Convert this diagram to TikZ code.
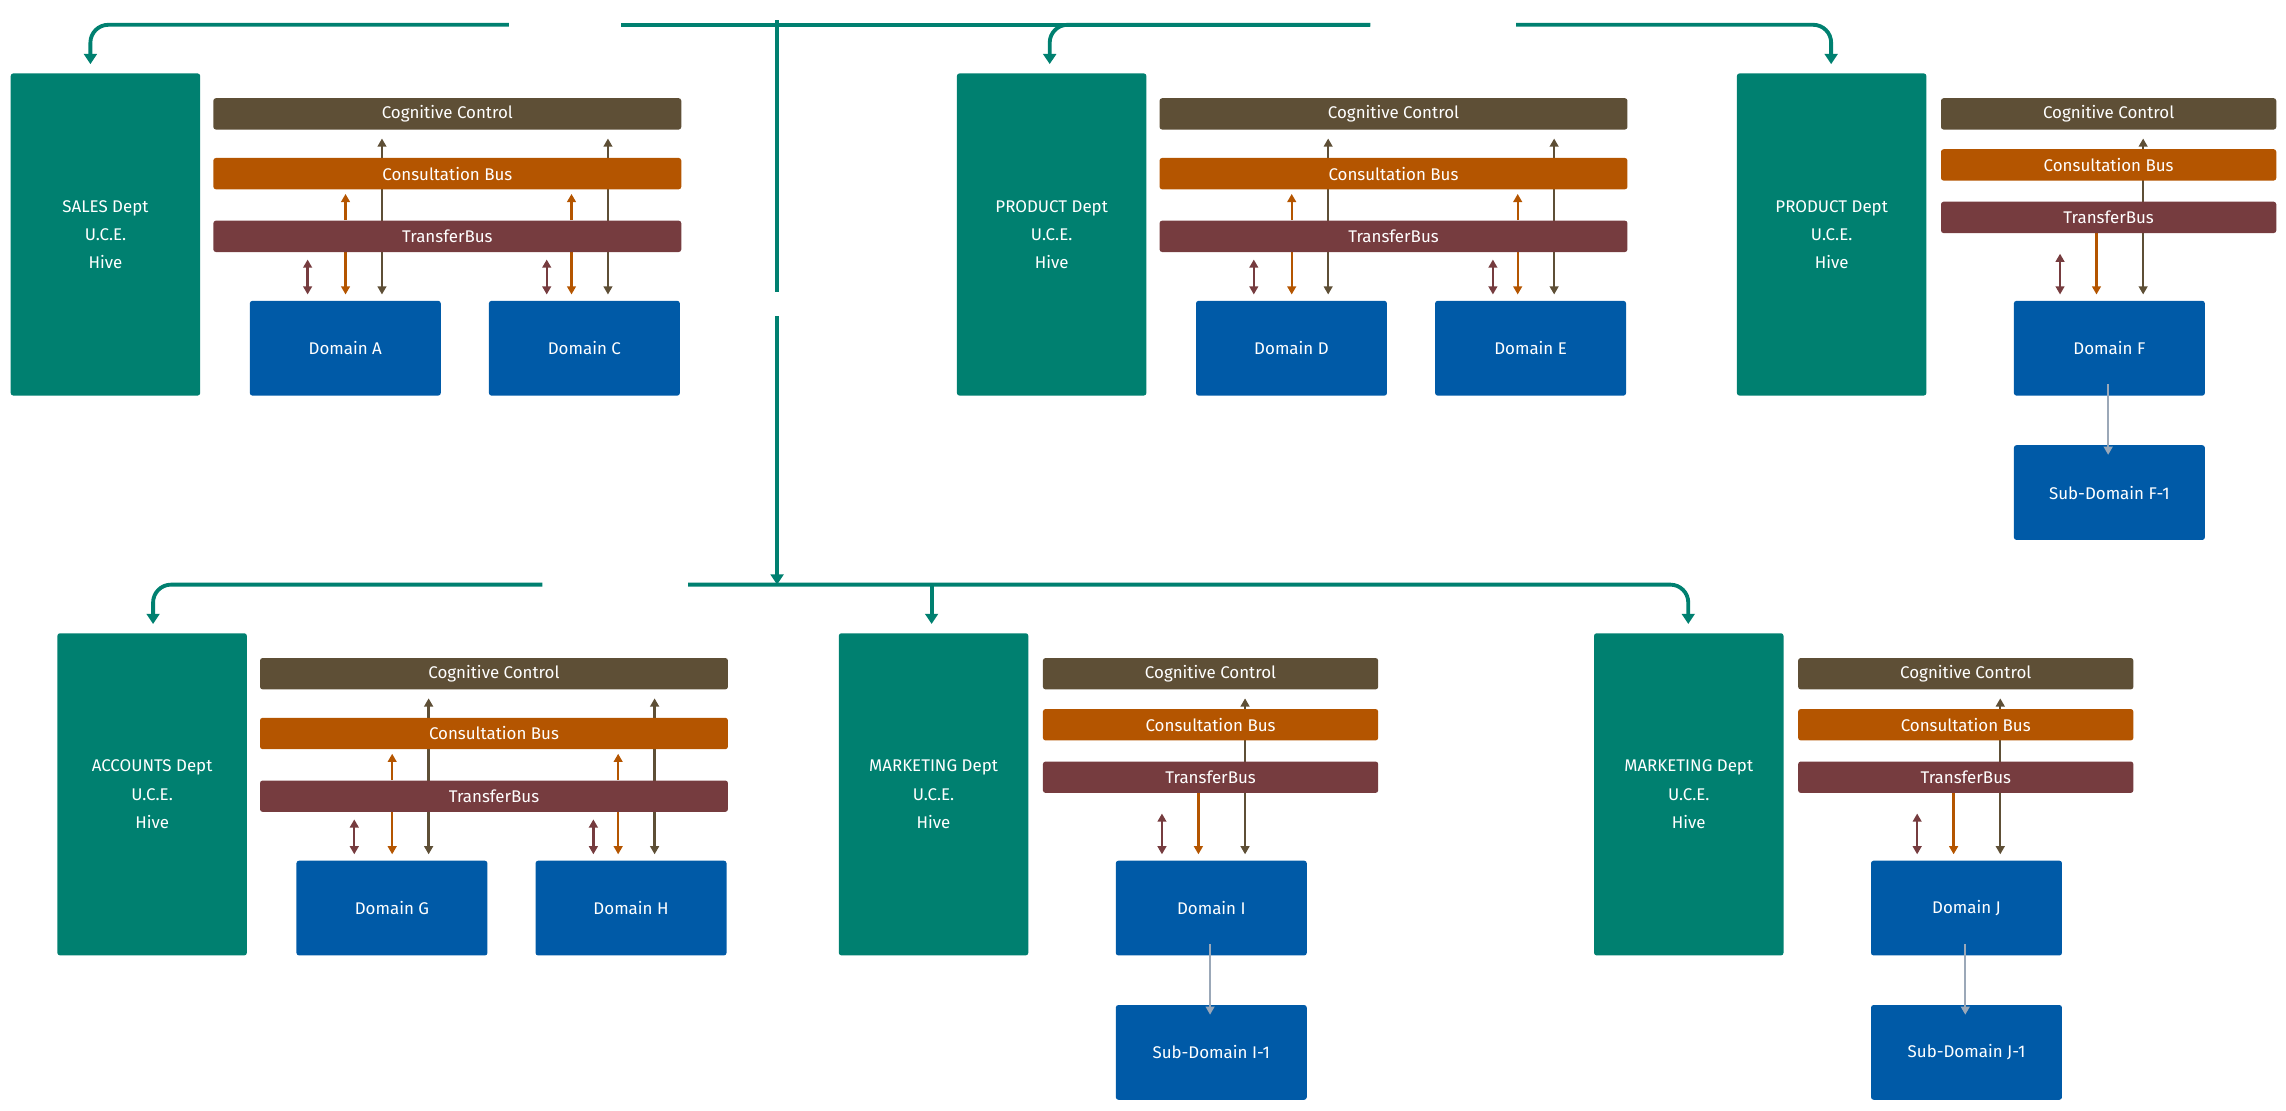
\documentclass[tikz,border=0pt]{standalone}
\usepackage{fontspec}
\setmainfont{Fira Sans}
\usetikzlibrary{positioning,calc,arrows.meta,backgrounds}
\definecolor{hiveteal}{RGB}{0,128,112}
\definecolor{ccbrown}{RGB}{94,79,54}
\definecolor{cborange}{RGB}{180,85,0}
\definecolor{tbred}{RGB}{118,60,63}
\definecolor{domblue}{RGB}{0,90,167}
\definecolor{subgray}{RGB}{155,168,184}
\tikzset{
	box/.style={anchor=north west, inner sep=0pt, rounded corners=1pt, text=white, font=\fontsize{6.6}{11}\selectfont, align=center},
	dept/.style={box, fill=hiveteal, minimum width=2.6cm, minimum height=4.42cm},
	bar/.style={box, minimum height=0.43cm},
	dom/.style={box, fill=domblue, minimum width=2.62cm, minimum height=1.3cm},
	tip/.style={-{Triangle[length=3.2pt,width=3.4pt]}, line width=0.9pt},
	both/.style={{Triangle[length=3.2pt,width=3.4pt]}-{Triangle[length=3.2pt,width=3.4pt]}, line width=0.9pt},
	link/.style={hiveteal, line width=1.5pt, rounded corners=7pt},
	linktip/.style={link, -{Triangle[length=4pt,width=5pt]}}
}
% arrows between the buses and one domain
\newcommand{\busarrows}[5]{
	\draw[both, tbred] ($(#1.north west)+(#2,-4)$) -- ($(#1.north west)+(#2,-28)$);
	\draw[tip, cborange] ($(#1.north west)+(#3,-34)$) -- ($(#1.north west)+(#3,-4)$);
	\draw[tip, cborange] ($(#1.north west)+(#3,-#5)$) -- ($(#1.north west)+(#3,-#5-18)$);
	\draw[both, ccbrown] ($(#1.north west)+(#4,-4)$) -- ($(#1.north west)+(#4,-111)$);
}
% hive with two domains
\newcommand{\twohive}[5]{
	\begin{scope}[shift={#2}]
		\node[dept] (#1) at (0,0) {#3\\U.C.E.\\Hive};
		\node[bar, fill=ccbrown, minimum width=6.42cm] (#1-cc) at (139,17) {Cognitive Control};
		\node[bar, fill=cborange, minimum width=6.42cm] (#1-cb) at (139,58) {Consultation Bus};
		\node[bar, fill=tbred, minimum width=6.42cm] (#1-tb) at (139,101) {TransferBus};
		\node[dom] (#1-a) at (164,156) {#4};
		\node[dom] (#1-b) at (328,156) {#5};
		\begin{scope}[on background layer]
			\busarrows{#1-a}{40}{66}{91}{55}
			\busarrows{#1-b}{40}{57}{82}{55}
		\end{scope}
	\end{scope}
}
% hive with one domain and its sub-domain
\newcommand{\onehive}[5]{
	\begin{scope}[shift={#2}]
		\node[dept] (#1) at (0,0) {#3\\U.C.E.\\Hive};
		\node[bar, fill=ccbrown, minimum width=4.6cm] (#1-cc) at (140,17) {Cognitive Control};
		\node[bar, fill=cborange, minimum width=4.6cm] (#1-cb) at (140,52) {Consultation Bus};
		\node[bar, fill=tbred, minimum width=4.6cm] (#1-tb) at (140,88) {TransferBus};
		\node[dom] (#1-a) at (190,156) {#4};
		\node[dom] (#1-s) at (190,255) {#5};
		\begin{scope}[on background layer]
			\draw[both, tbred] ($(#1-a.north west)+(32,-4)$) -- ($(#1-a.north west)+(32,-32)$);
			\draw[tip, cborange] ($(#1-a.north west)+(57,-47)$) -- ($(#1-a.north west)+(57,-4)$);
			\draw[both, ccbrown] ($(#1-a.north west)+(89,-4)$) -- ($(#1-a.north west)+(89,-111)$);
		\end{scope}
		\draw[tip, subgray] ($(#1-a.south west)+(65,-8)$) -- ($(#1-s.north west)+(65,7)$);
	\end{scope}
}

\begin{document}
\begin{tikzpicture}[x=0.02cm, y=-0.02cm]
	\useasboundingbox (0,0) rectangle (1568,762);

	%top row
	\twohive{sales}{(7,50)}{SALES Dept}{Domain A}{Domain C}
	\twohive{prodA}{(656,50)}{PRODUCT Dept}{Domain D}{Domain E}
	\onehive{prodB}{(1191,50)}{PRODUCT Dept}{Domain F}{Sub-Domain F-1}

	%bottom row
	\twohive{accts}{(39,434)}{ACCOUNTS Dept}{Domain G}{Domain H}
	\onehive{mktA}{(575,434)}{MARKETING Dept}{Domain I}{Sub-Domain I-1}
	\onehive{mktB}{(1093,434)}{MARKETING Dept}{Domain J}{Sub-Domain J-1}

	%teal links
	\coordinate (topL) at (349,17);
	\coordinate (topM) at (426,17);
	\coordinate (topE) at (940,17);
	\coordinate (topR) at (1040,17);
	\coordinate (hubA) at (533,14);
	\coordinate (hubB) at (533,200);
	\coordinate (hubC) at (533,217);
	\coordinate (hubD) at (533,401);
	\coordinate (botL) at (372,401);
	\coordinate (botM) at (472,401);
	\coordinate (botE) at (1158,401);

	\draw[linktip] (topL) -| ($(sales.north west)+(55,-6)$);
	\draw[link] (topM) -- (topE);
	\draw[linktip] (topE) -| ($(prodA.north west)+(64,-6)$);
	\draw[linktip] (topR) -| ($(prodB.north west)+(65,-6)$);
	\draw[link] (hubA) -- (hubB);
	\draw[linktip] (hubC) -- (hubD);
	\draw[linktip] (botL) -| ($(accts.north west)+(66,-6)$);
	\draw[linktip] (botM) -| ($(mktB.north west)+(65,-6)$);
	\draw[linktip] ($(mktA.north west)+(64,-33)$) -- ($(mktA.north west)+(64,-6)$);
\end{tikzpicture}
\end{document}
